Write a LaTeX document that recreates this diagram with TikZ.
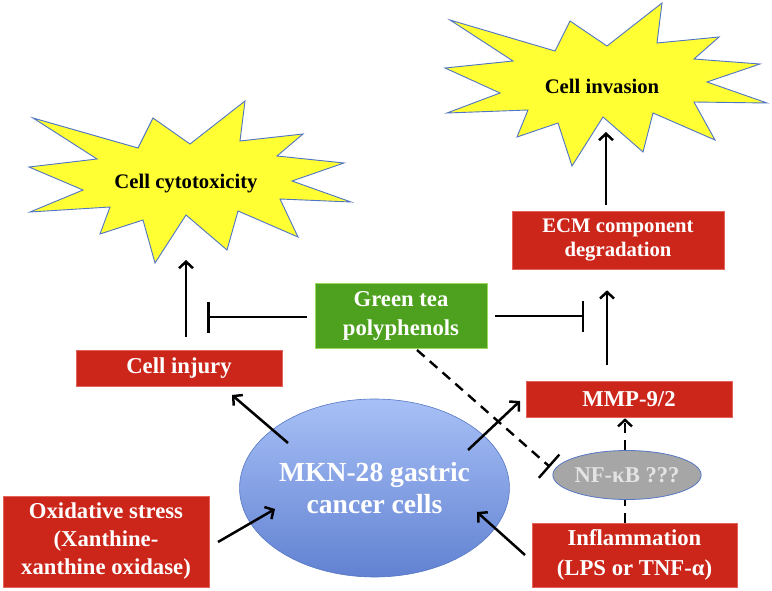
\documentclass[tikz,border=0pt]{standalone}
\usepackage{fontspec}
\setmainfont{Liberation Serif}
\usetikzlibrary{arrows.meta,shapes.geometric}
\definecolor{boxred}{HTML}{CC261B}
\definecolor{redline}{HTML}{E2645A}
\definecolor{boxgreen}{HTML}{4EA11E}
\definecolor{greenline}{HTML}{9BD95A}
\definecolor{starY}{HTML}{FFFF33}
\definecolor{starB}{HTML}{4F74C4}
\definecolor{ellTop}{HTML}{A7C0F6}
\definecolor{ellBot}{HTML}{6282D2}
\definecolor{ellLine}{HTML}{5677C4}
\definecolor{nfGray}{HTML}{A6A6A6}
\definecolor{nfText}{HTML}{E4E4E4}
\begin{document}
\begin{tikzpicture}[x=1pt,y=-1pt,
  starshape/.style={fill=starY,draw=starB,line width=0.9pt,line join=miter},
  startext/.style={font=\bfseries\fontsize{20.7}{24}\selectfont,text=black,inner sep=0pt},
  redbox/.style={rectangle,fill=boxred,draw=redline,line width=0.6pt,text=white,
    font=\bfseries\fontsize{22.7}{28}\selectfont,align=center,inner sep=0pt},
  greenbox/.style={rectangle,fill=boxgreen,draw=greenline,line width=0.8pt,text=white,
    font=\bfseries\fontsize{22.7}{29}\selectfont,align=center,inner sep=0pt},
  arr/.style={line width=2.5pt,-{Straight Barb[length=6.5pt,width=14pt]}},
  inh/.style={line width=2.5pt,-{Bar[width=31pt]}},
  dsh/.style={line width=2.4pt,dash pattern=on 10pt off 7pt}]
\useasboundingbox (0,0) rectangle (772,591);
\fill[white] (0,0) rectangle (772,591);

% starbursts
\draw[starshape] (33,118)--(138,148)--(153,118)--(190,144)--(245,101)--(240,141)--(303,134)--(277,156)--(344,163)--(292,181)--(351,202)--(280,199)--(298,237)--(238,211)--(227,250)--(186,215)--(155,263)--(143,220)--(100,234)--(110,207)--(30,212)--(83,190)--(29,167)--(97,159)--cycle;
\node[startext] (cyto) at (186,184) {Cell cytotoxicity};

\draw[starshape] (450,20)--(555,51)--(570,21)--(607,46)--(662,3)--(657,43)--(719,37)--(694,59)--(760,64)--(707,82)--(767,103)--(694,102)--(715,140)--(653,113)--(643,152)--(603,117)--(572,166)--(558,123)--(517,137)--(528,110)--(447,113)--(500,93)--(445,68)--(513,61)--cycle;
\node[startext] (inv) at (602,86) {Cell invasion};

% boxes
\node[redbox,minimum width=206pt,minimum height=36pt] (injury) at (179,368) {Cell injury};
\node[redbox,minimum width=206pt,minimum height=91pt] (oxid) at (106,541.5) {Oxidative stress\\(Xanthine-\\xanthine oxidase)};
\node[greenbox,minimum width=172pt,minimum height=65pt] (green) at (401,315.5) {Green tea\\polyphenols};
\node[redbox,minimum width=212pt,minimum height=58pt,font=\bfseries\fontsize{20.7}{24}\selectfont] (ecm) at (618,240) {ECM component\\degradation};
\node[redbox,minimum width=206pt,minimum height=36pt] (mmp) at (629,399) {MMP-9/2};
\node[redbox,minimum width=205pt,minimum height=64pt,font=\bfseries\fontsize{22.7}{30}\selectfont] (infl) at (634.5,555) {Inflammation\\(LPS or TNF-α)};
\node[ellipse,minimum width=240pt,minimum height=178pt,inner sep=0pt,top color=ellTop,bottom color=ellBot,draw=ellLine,line width=0.6pt,
  text=white,font=\bfseries\fontsize{27.6}{32}\selectfont,align=center] (mkn) at (374.5,488) {MKN-28 gastric\\cancer cells};
\node[ellipse,minimum width=140pt,minimum height=49pt,inner sep=0pt,fill=nfGray,draw=ellLine,line width=0.8pt,
  text=nfText,font=\bfseries\fontsize{22.6}{26}\selectfont] (nfkb) at (627,475) {NF-κB ???};

% connector ends
\coordinate (cytoIn) at (186,260);
\coordinate (invIn) at (606,132);
\coordinate (barL) at (207,317);
\coordinate (barR) at (584,316);
\coordinate (mknNW) at (288,443);
\coordinate (injIn) at (232,395);
\coordinate (oxOut) at (218,542);
\coordinate (mknW) at (275,509);
\coordinate (mknNE) at (468,450);
\coordinate (mmpIn) at (520,401);
\coordinate (inflOut) at (525,555);
\coordinate (mknE) at (477,512);
\coordinate (grOut) at (417,350);
\coordinate (barN) at (550,467);

% connectors
\draw[arr,shorten <=13pt] ([xshift=7pt]injury.north) -- (cytoIn);
\draw[inh,shorten <=8pt] (green.west |- barL) -- (barL);
\draw[inh,shorten <=8pt] (green.east |- barR) -- (barR);
\draw[arr,shorten <=16pt,shorten >=21pt] ([xshift=-22pt]mmp.north) -- ([xshift=-11pt]ecm.south);
\draw[arr,shorten <=6pt] ([xshift=-12pt]ecm.north) -- (invIn);
\draw[arr] (mknNW) -- (injIn);
\draw[arr] (oxOut) -- (mknW);
\draw[arr] (mknNE) -- (mmpIn);
\draw[arr] (inflOut) -- (mknE);
\draw[dsh,-{Straight Barb[length=6.5pt,width=14pt]}] ([xshift=-2pt]nfkb.north) -- ([xshift=-4pt,yshift=-1pt]mmp.south);
\draw[dsh] ([xshift=-9.5pt]infl.north) -- ([xshift=-2pt]nfkb.south);
\draw[dsh,-{Bar[width=31pt]}] (grOut) -- (barN);
\end{tikzpicture}
\end{document}
